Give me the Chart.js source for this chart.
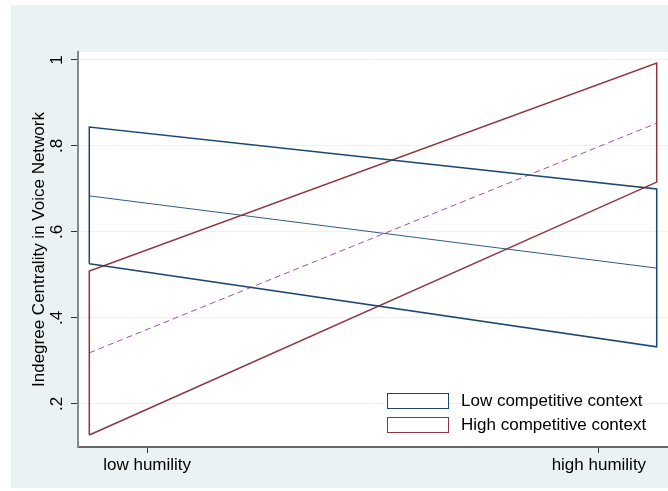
<!DOCTYPE html>
<html>
<head>
<meta charset="utf-8">
<script src="https://cdn.jsdelivr.net/npm/chart.js@4"></script>
<style>
  html, body { margin: 0; padding: 0; background: #ffffff; }
  #wrap { position: relative; width: 668px; height: 491px; overflow: hidden; }
  #legend { position: absolute; left: 387px; top: 393px; font-family: "Liberation Sans", Arial, sans-serif; font-size: 17px; color: #000; }
  .row { position: absolute; left: 0; height: 16px; white-space: nowrap; }
  .box { position: absolute; left: 0; top: 0; width: 60px; height: 14px; background: #fff; }
  .lab { position: absolute; left: 74px; top: -2px; line-height: 20px; }
</style>
</head>
<body>
<div id="wrap">
  <canvas id="c" width="668" height="491"></canvas>
  <div id="legend"></div>
</div>
<script>
// ---- data ----
const xTickValues = [0, 1];
const xTickLabels = ['low humility', 'high humility'];
const xEnds = [-0.128, 1.128];
const yTicks = [0.2, 0.4, 0.6, 0.8, 1];
const seriesNames = ['Low competitive context', 'High competitive context'];
const lowMean  = [0.684, 0.516];
const lowUpper = [0.844, 0.700];
const lowLower = [0.526, 0.333];
const highMean  = [0.319, 0.853];
const highUpper = [0.509, 0.993];
const highLower = [0.128, 0.716];

const NAVY = '#1a476f';
const MAROON = '#90353b';
const PURPLE = '#a34ea8';
const BG = '#eaf2f3';
const FONT = '"Liberation Sans", Arial, sans-serif';

function pts(vals) { return vals.map((v, i) => ({ x: xEnds[i], y: v })); }
function band(lo, hi) {
  return [
    { x: xEnds[0], y: lo[0] }, { x: xEnds[0], y: hi[0] },
    { x: xEnds[1], y: hi[1] }, { x: xEnds[1], y: lo[1] },
    { x: xEnds[0], y: lo[0] }
  ];
}

const bgPlugin = {
  id: 'bg',
  beforeDraw(chart) {
    const ctx = chart.ctx, a = chart.chartArea;
    ctx.save();
    ctx.fillStyle = '#ffffff';
    ctx.fillRect(0, 0, chart.width, chart.height);
    ctx.fillStyle = BG;
    ctx.fillRect(11, 5, chart.width - 11, 483);
    ctx.fillStyle = '#ffffff';
    ctx.fillRect(a.left, a.top, a.right - a.left, a.bottom - a.top);
    ctx.restore();
  }
};

const lineCommon = { showLine: true, pointRadius: 0, fill: false, tension: 0 };

new Chart(document.getElementById('c'), {
  type: 'scatter',
  data: {
    datasets: [
      Object.assign({ label: seriesNames[0] + ' CI', data: band(lowLower, lowUpper), borderColor: NAVY, borderWidth: 1.5 }, lineCommon),
      Object.assign({ label: seriesNames[1] + ' CI', data: band(highLower, highUpper), borderColor: MAROON, borderWidth: 1.5 }, lineCommon),
      Object.assign({ label: seriesNames[0], data: pts(lowMean), borderColor: '#2f5d85', borderWidth: 1 }, lineCommon),
      Object.assign({ label: seriesNames[1], data: pts(highMean), borderColor: PURPLE, borderWidth: 1, borderDash: [6, 4] }, lineCommon)
    ]
  },
  options: {
    responsive: false,
    animation: false,
    layout: { padding: { top: 52, right: 0, left: 0, bottom: 0 } },
    plugins: { legend: { display: false }, tooltip: { enabled: false } },
    scales: {
      x: {
        type: 'linear',
        min: -0.153, max: 1.153,
        afterBuildTicks(s) { s.ticks = xTickValues.map(v => ({ value: v })); },
        afterFit(s) { s.height = 44; },
        ticks: {
          callback(v) { const i = xTickValues.indexOf(v); return i >= 0 ? xTickLabels[i] : ''; },
          font: { family: FONT, size: 17 },
          color: '#000',
          padding: 2,
          maxRotation: 0, minRotation: 0
        },
        grid: { drawOnChartArea: false, drawTicks: true, tickLength: 6, tickColor: '#333', tickWidth: 1 },
        border: { display: true, color: '#666', width: 2 }
      },
      y: {
        type: 'linear',
        min: 0.1, max: 1.0186,
        afterBuildTicks(s) { s.ticks = yTicks.map(v => ({ value: v })); },
        afterFit(s) { s.width = 78; },
        ticks: {
          callback(v) { return v >= 0.999 ? '1' : '.' + Math.round(v * 10); },
          font: { family: FONT, size: 17 },
          color: '#000',
          minRotation: 90, maxRotation: 90,
          crossAlign: 'center',
          padding: 7
        },
        grid: { color: BG, lineWidth: 1, drawTicks: true, tickLength: 7, tickColor: '#333', tickWidth: 1 },
        border: { display: true, color: '#8a8a8a', width: 2 },
        title: {
          display: true,
          text: 'Indegree Centrality in Voice Network',
          font: { family: FONT, size: 17 },
          color: '#000',
          padding: { top: 29, bottom: 0 }
        }
      }
    }
  },
  plugins: [bgPlugin]
});

// legend
const legend = document.getElementById('legend');
[[seriesNames[0], NAVY], [seriesNames[1], MAROON]].forEach((d, i) => {
  const row = document.createElement('div');
  row.className = 'row';
  row.style.top = (i * 24) + 'px';
  const box = document.createElement('div');
  box.className = 'box';
  box.style.border = '1px solid ' + d[1];
  const lab = document.createElement('div');
  lab.className = 'lab';
  lab.textContent = d[0];
  row.appendChild(box); row.appendChild(lab);
  legend.appendChild(row);
});
</script>
</body>
</html>
